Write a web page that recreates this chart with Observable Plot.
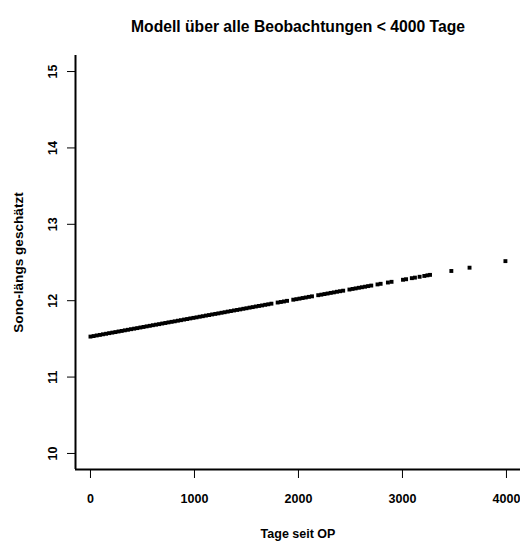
<!DOCTYPE html>
<html>
<head>
<meta charset="utf-8">
<script src="https://cdn.jsdelivr.net/npm/d3@7"></script>
<script src="https://cdn.jsdelivr.net/npm/@observablehq/plot@0.6"></script>
<style>
  html, body { margin: 0; padding: 0; background: #fff; }
  #chart svg { display: block; }
</style>
</head>
<body>
<div id="chart"></div>
<script>
// Days since surgery for each observation (< 4000 days)
const days = [
  0, 30, 60, 90, 120, 150, 180, 210, 240, 270,
  300, 330, 360, 390, 420, 450, 480, 510, 540, 570,
  600, 630, 660, 690, 720, 750, 780, 810, 840, 870,
  900, 930, 960, 990, 1020, 1050, 1080, 1110, 1140, 1170,
  1200, 1230, 1260, 1290, 1320, 1350, 1380, 1410, 1440, 1470,
  1500, 1530, 1560, 1590, 1620, 1650, 1680, 1710, 1740,
  1800, 1830, 1860, 1890, 1950, 1980, 2010, 2040, 2070,
  2100, 2130, 2190, 2220, 2250, 2280, 2310, 2340, 2370, 2400,
  2430, 2490, 2520, 2550, 2580, 2610, 2640, 2670, 2700,
  2760, 2790, 2860, 2895, 3005, 3035, 3090, 3120,
  3165, 3210, 3240, 3265, 3470, 3645, 3990
];

// Model-estimated longitudinal sonography value for each observation
const estimated = [
  11.530, 11.537, 11.545, 11.552, 11.560, 11.567, 11.575, 11.582, 11.589, 11.597,
  11.604, 11.612, 11.619, 11.627, 11.634, 11.641, 11.649, 11.656, 11.664, 11.671,
  11.679, 11.686, 11.693, 11.701, 11.708, 11.716, 11.723, 11.730, 11.738, 11.745,
  11.753, 11.760, 11.768, 11.775, 11.782, 11.790, 11.797, 11.805, 11.812, 11.820,
  11.827, 11.834, 11.842, 11.849, 11.857, 11.864, 11.872, 11.879, 11.886, 11.894,
  11.901, 11.909, 11.916, 11.924, 11.931, 11.938, 11.946, 11.953, 11.961,
  11.976, 11.983, 11.990, 11.998, 12.013, 12.020, 12.027, 12.035, 12.042,
  12.050, 12.057, 12.072, 12.079, 12.087, 12.094, 12.102, 12.109, 12.117, 12.124,
  12.131, 12.146, 12.154, 12.161, 12.169, 12.176, 12.183, 12.191, 12.198,
  12.213, 12.221, 12.238, 12.247, 12.274, 12.281, 12.295, 12.302,
  12.313, 12.324, 12.332, 12.338, 12.389, 12.432, 12.518
];

const xTicks = [0, 1000, 2000, 3000, 4000];
const yTicks = [10, 11, 12, 13, 14, 15];

const titleText = "Modell über alle Beobachtungen < 4000 Tage";
const xLabel = "Tage seit OP";
const yLabel = "Sono-längs geschätzt";

const points = days.map((d, i) => ({day: d, value: estimated[i]}));

const font = "'Liberation Sans', Arial, Helvetica, sans-serif";
const xDomain = [-144, 4135];
const yDomain = [9.79, 15.21];

const chart = Plot.plot({
  width: 520,
  height: 544,
  marginLeft: 75,
  marginRight: 0,
  marginTop: 55,
  marginBottom: 75,
  style: {fontFamily: font, background: "#fff", color: "#000", overflow: "visible"},
  x: {domain: xDomain},
  y: {domain: yDomain},
  marks: [
    // L-shaped frame: left and bottom axis lines
    Plot.ruleX([xDomain[0]], {stroke: "#000", strokeWidth: 2}),
    Plot.ruleY([yDomain[0]], {stroke: "#000", strokeWidth: 2}),
    // Tick marks
    Plot.axisX({ticks: xTicks, tickSize: 9, tickPadding: 16, label: null,
      fontSize: 12.5, fontWeight: "bold", tickFormat: d => String(d)}),
    Plot.axisY({ticks: yTicks, tickSize: 8, label: null, tickFormat: () => ""}),
    // Vertical y tick labels
    Plot.text(yTicks, {y: d => d, text: d => String(d), frameAnchor: "left", textAnchor: "middle",
      rotate: -90, dx: -23, fontSize: 12.5, fontWeight: "bold", fill: "#000"}),
    // Estimated values
    Plot.dot(points, {x: "day", y: "value", symbol: "square", r: 2.2, fill: "#000", stroke: "none"}),
    // Title and axis titles
    Plot.text([titleText], {frameAnchor: "top", dy: -35, fontSize: 15.7, fontWeight: "bold", fill: "#000"}),
    Plot.text([xLabel], {frameAnchor: "bottom", dy: 68, fontSize: 12.5, fontWeight: "bold", fill: "#000"}),
    Plot.text([yLabel], {frameAnchor: "left", textAnchor: "middle", dx: -57, rotate: -90,
      fontSize: 13.6, fontWeight: "bold", fill: "#000"})
  ]
});

document.getElementById("chart").appendChild(chart);
</script>
</body>
</html>
